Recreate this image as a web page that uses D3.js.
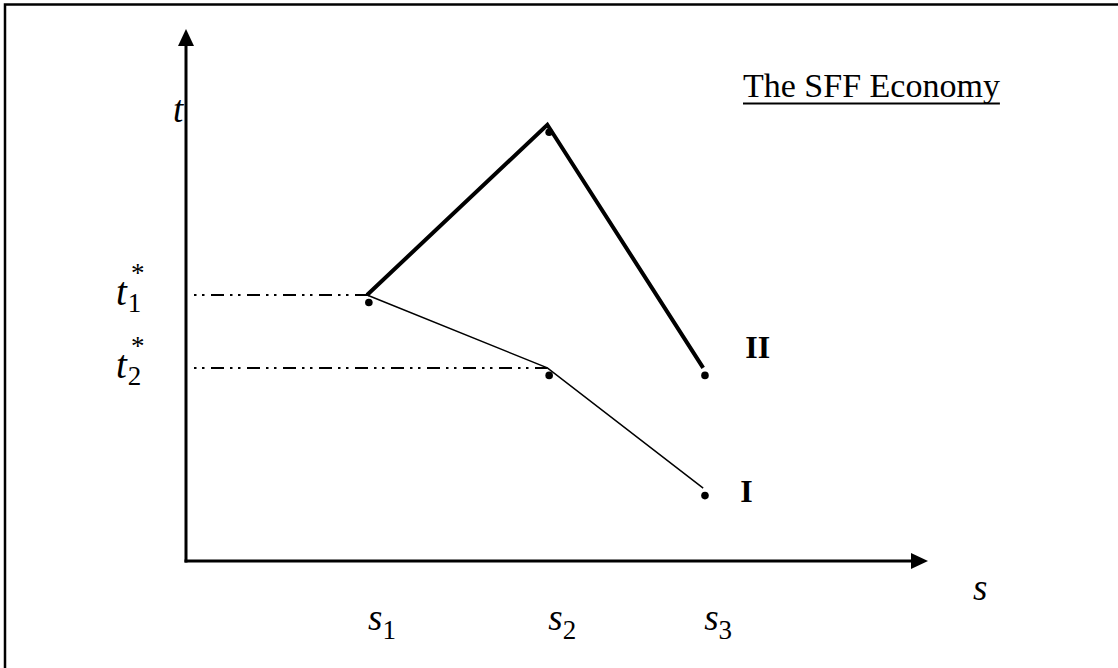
<!DOCTYPE html>
<html>
  <head>
    <meta charset="utf-8">
    <style>
      body { margin: 0; background: #fff; }
      svg text { font-family: "Liberation Serif", "Times New Roman", serif; fill: #000; }
      .lab { font-style: italic; font-size: 37px; }
      .tlab { font-style: italic; font-size: 39px; }
      .sub { font-style: normal; font-size: 27px; }
      .econ { font-weight: bold; font-size: 32px; }
      .title { font-size: 34px; }
    </style>
  </head>
  <body>
    <script src="https://d3js.org/d3.v7.min.js"></script>
    <script>
      // data (axis units 0..10)
      var sNames = ["1", "2", "3"];
      var sVals = [2.44, 4.87, 6.97];
      var economyI = [5.0, 3.63, 1.37];
      var economyII = [5.0, 8.2, 3.63];
      var tNames = ["1", "2"];
      var tStar = [5.0, 3.63];
      var seriesNames = ["I", "II"];
      var title = "The SFF Economy";

      var width = 1118, height = 668;
      var svg = d3.select("body").append("svg")
          .attr("width", width)
          .attr("height", height);

      var x = d3.scaleLinear().domain([0, 10]).range([186, 928]);
      var y = d3.scaleLinear().domain([0, 10]).range([561, 29]);

      // frame (only top and left edges show in the crop)
      svg.append("path")
          .attr("d", "M5," + height + "V4.5H" + width)
          .attr("fill", "none")
          .attr("stroke", "#000")
          .attr("stroke-width", 2.5);

      // axes with arrow heads
      svg.append("line")
          .attr("x1", x(0)).attr("y1", y(0) + 1.5)
          .attr("x2", x(0)).attr("y2", y(10) + 16)
          .attr("stroke", "#000").attr("stroke-width", 3);
      svg.append("path")
          .attr("d", "M" + x(0) + "," + y(10) + "l-8,17h16z")
          .attr("fill", "#000");
      svg.append("line")
          .attr("x1", x(0) - 1.5).attr("y1", y(0))
          .attr("x2", x(10) - 16).attr("y2", y(0))
          .attr("stroke", "#000").attr("stroke-width", 3);
      svg.append("path")
          .attr("d", "M" + x(10) + "," + y(0) + "l-17,-8v16z")
          .attr("fill", "#000");

      // dash-dot-dot guides from t* levels
      svg.selectAll(".guide")
          .data(tStar)
          .enter().append("line")
          .attr("class", "guide")
          .attr("x1", x(0) + 2)
          .attr("x2", function(d, i) { return x(sVals[i]); })
          .attr("y1", function(d) { return y(d); })
          .attr("y2", function(d) { return y(d); })
          .attr("stroke", "#000")
          .attr("stroke-width", 2)
          .attr("stroke-dasharray", "2.5,5.5,2.5,6.5,13,6")
          .attr("stroke-dashoffset", -6);

      var line = d3.line()
          .x(function(d, i) { return x(sVals[i]); })
          .y(function(d) { return y(d); });

      svg.append("path")
          .attr("d", line(economyI))
          .attr("fill", "none")
          .attr("stroke", "#000")
          .attr("stroke-width", 1.5);
      svg.append("path")
          .attr("d", line(economyII))
          .attr("fill", "none")
          .attr("stroke", "#000")
          .attr("stroke-width", 4)
          .attr("stroke-linejoin", "miter");

      // dots sit a little below-right of the vertices
      var dots = [];
      economyI.forEach(function(d, i) { dots.push([sVals[i], d]); });
      economyII.slice(1).forEach(function(d, i) { dots.push([sVals[i + 1], d]); });
      svg.selectAll(".dot")
          .data(dots)
          .enter().append("circle")
          .attr("class", "dot")
          .attr("cx", function(d) { return x(d[0]) + 1.8; })
          .attr("cy", function(d) { return y(d[1]) + 7.5; })
          .attr("r", 3.8)
          .attr("fill", "#000");

      // series labels
      svg.append("text").attr("class", "econ")
          .attr("x", x(sVals[2]) + 37).attr("y", y(economyI[2]) + 14)
          .text(seriesNames[0]);
      svg.append("text").attr("class", "econ")
          .attr("x", x(sVals[2]) + 42).attr("y", y(economyII[2]) - 10)
          .text(seriesNames[1]);

      // axis names
      svg.append("text").attr("class", "lab")
          .attr("x", x(0) - 13).attr("y", 122).text("t");
      svg.append("text").attr("class", "lab")
          .attr("x", 973).attr("y", 600).text("s");

      // s tick labels
      sVals.forEach(function(v, i) {
        var t = svg.append("text").attr("class", "lab")
            .attr("x", x(v) + 1).attr("y", 630);
        t.append("tspan").text("s");
        t.append("tspan").attr("class", "sub").attr("dy", 9).text(sNames[i]);
      });

      // t* labels: t with subscript, star set just above
      tStar.forEach(function(v, i) {
        var t = svg.append("text").attr("class", "tlab")
            .attr("x", 116).attr("y", y(v) + 10);
        t.append("tspan").text("t");
        t.append("tspan").attr("class", "sub").attr("dx", 1).attr("dy", 7).text(tNames[i]);
        svg.append("text").attr("class", "sub")
            .attr("x", 131).attr("y", y(v) - 13)
            .text("*");
      });

      // title, underlined
      var tt = svg.append("text").attr("class", "title")
          .attr("x", 743).attr("y", 97)
          .text(title);
      var bb = tt.node().getBBox();
      svg.append("line")
          .attr("x1", bb.x).attr("x2", bb.x + bb.width)
          .attr("y1", 103.5).attr("y2", 103.5)
          .attr("stroke", "#000").attr("stroke-width", 2);
    </script>
  </body>
</html>
